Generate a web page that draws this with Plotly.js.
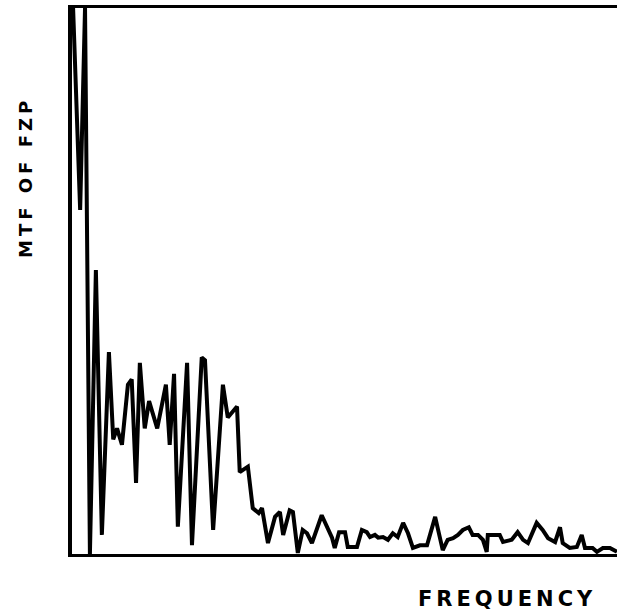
<!DOCTYPE html>
<html>
<head>
<meta charset="utf-8">
<script src="https://cdn.plot.ly/plotly-3.0.1.min.js"></script>
<style>
  html, body { margin: 0; padding: 0; background: #fff; }
  #chart { width: 618px; height: 614px; }
</style>
</head>
<body>
<div id="chart"></div>
<script>
// Frequency (arbitrary units, 0..100) and MTF (0..1)
const frequency = [0.2, 1.5, 2.4, 3.3, 4.4, 5.5, 6.8, 7.6, 8.3, 9.2, 10.3, 11.0, 11.8, 12.5, 13.4, 14.2,
  15.7, 17.3, 18.0, 18.8, 19.5, 21.2, 22.1, 23.9, 24.5, 26.0, 27.8, 28.7, 30.4, 30.9, 32.4, 33.3,
  34.4, 35.0, 36.1, 37.4, 38.3, 38.9, 40.1, 40.7, 41.6, 42.5, 43.3, 44.2, 46.0, 47.9, 48.4, 49.2,
  50.3, 50.8, 52.5, 53.4, 54.3, 54.9, 55.8, 56.4, 57.3, 58.2, 59.1, 60.0, 61.0, 61.9, 62.8, 64.1,
  65.4, 66.9, 68.3, 69.2, 70.2, 71.1, 72.0, 73.1, 73.8, 74.8, 75.7, 76.4, 76.6, 78.8, 79.4, 81.0,
  82.1, 83.1, 84.0, 85.6, 86.7, 87.7, 89.0, 89.9, 90.4, 91.7, 93.0, 93.9, 94.5, 95.9, 96.7, 97.8,
  99.1, 100.4];
const mtf = [1.0, 0.63, 1.0, 0.0, 0.52, 0.035, 0.37, 0.21, 0.23, 0.20, 0.31, 0.32, 0.13, 0.35, 0.23, 0.28,
  0.23, 0.31, 0.20, 0.33, 0.05, 0.35, 0.016, 0.36, 0.355, 0.044, 0.31, 0.25, 0.27, 0.15, 0.16, 0.084,
  0.075, 0.084, 0.02, 0.068, 0.077, 0.035, 0.08, 0.077, 0.002, 0.044, 0.038, 0.02, 0.071, 0.03, 0.011, 0.04,
  0.04, 0.013, 0.013, 0.044, 0.04, 0.031, 0.035, 0.03, 0.031, 0.026, 0.038, 0.031, 0.057, 0.038, 0.011, 0.016,
  0.016, 0.068, 0.007, 0.026, 0.029, 0.035, 0.044, 0.049, 0.035, 0.035, 0.026, 0.004, 0.035, 0.035, 0.022, 0.026,
  0.04, 0.026, 0.02, 0.057, 0.044, 0.029, 0.022, 0.049, 0.02, 0.011, 0.013, 0.035, 0.011, 0.011, 0.004, 0.011,
  0.011, 0.004];
const xLabel = "FREQUENCY";
const yLabel = "MTF OF FZP";

const trace = {
  x: frequency,
  y: mtf,
  type: "scatter",
  mode: "lines",
  line: { color: "#000", width: 4 },
  hoverinfo: "skip"
};

const layout = {
  width: 618,
  height: 614,
  margin: { l: 72, r: 1, t: 8, b: 60 },
  paper_bgcolor: "#fff",
  plot_bgcolor: "#fff",
  showlegend: false,
  xaxis: {
    range: [0, 100.4],
    showline: true, mirror: true, linecolor: "#000", linewidth: 3,
    showgrid: false, zeroline: false, showticklabels: false, ticks: ""
  },
  yaxis: {
    range: [0, 1],
    showline: true, mirror: false, linecolor: "#000", linewidth: 4,
    showgrid: false, zeroline: false, showticklabels: false, ticks: ""
  },
  annotations: [
    {
      text: '<span style="letter-spacing:4px">' + xLabel + '</span>',
      xref: "paper", yref: "paper", x: 0.798, y: -0.082,
      xanchor: "center", yanchor: "middle", showarrow: false,
      font: { family: "DejaVu Sans", size: 21, color: "#000", weight: "bold" }
    },
    {
      text: '<span style="letter-spacing:4px">' + yLabel + '</span>',
      xref: "paper", yref: "paper", x: -0.085, y: 0.69,
      xanchor: "center", yanchor: "middle", showarrow: false, textangle: -90,
      font: { family: "DejaVu Sans", size: 18, color: "#000", weight: "bold" }
    }
  ]
};

Plotly.newPlot("chart", [trace], layout, { displayModeBar: false, staticPlot: true });
</script>
</body>
</html>
